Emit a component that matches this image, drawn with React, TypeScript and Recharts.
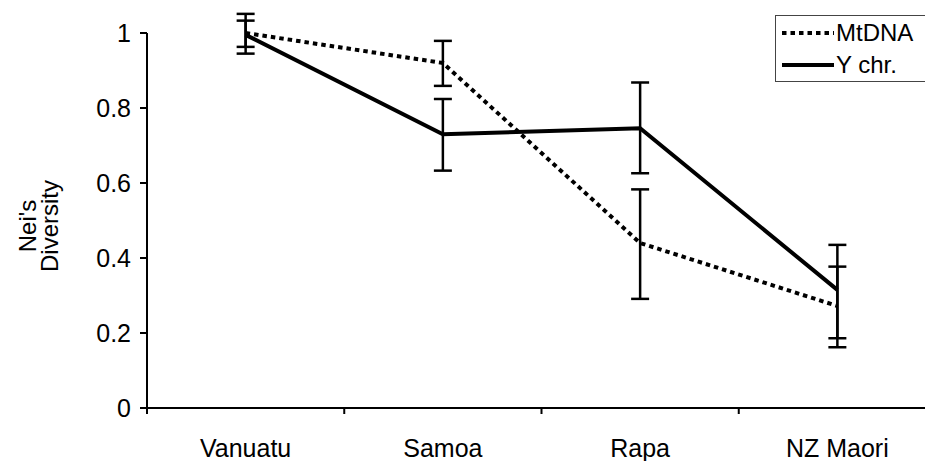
import { LineChart, Line, XAxis, YAxis, ErrorBar, Legend } from 'recharts';

const categories = ['Vanuatu', 'Samoa', 'Rapa', 'NZ Maori'];

const mtdna = [1.0, 0.92, 0.44, 0.272];
const mtdnaLow = [0.963, 0.859, 0.291, 0.186];
const mtdnaHigh = [1.033, 0.979, 0.583, 0.377];

const ychr = [0.995, 0.73, 0.746, 0.315];
const ychrLow = [0.945, 0.633, 0.626, 0.162];
const ychrHigh = [1.051, 0.824, 0.868, 0.435];

const yTicks = [0, 0.2, 0.4, 0.6, 0.8, 1];

const data = categories.map((name, i) => ({
  name,
  mtdna: mtdna[i],
  mtdnaErr: [mtdna[i] - mtdnaLow[i], mtdnaHigh[i] - mtdna[i]],
  ychr: ychr[i],
  ychrErr: [ychr[i] - ychrLow[i], ychrHigh[i] - ychr[i]],
}));

const series = [
  { key: 'mtdna', name: 'MtDNA', dash: '4.5 4' },
  { key: 'ychr', name: 'Y chr.', dash: undefined },
];

const FONT = '"Liberation Sans", Arial, Helvetica, sans-serif';
const W = 936;
const H = 461;
const Y_AXIS_W = 147;
const X_AXIS_H = 53;
const PLOT_W = W - Y_AXIS_W;
const HALF_BAND = PLOT_W / categories.length / 2;
const X_TICK_SIZE = 6;
const X_TICK_MARGIN = 25;

// category labels sit mid-band, tick marks sit on the band edges (Excel style)
const XTick = (p: any) => {
  const axisY = p.y - X_TICK_SIZE - X_TICK_MARGIN;
  return (
    <g>
      <line x1={p.x - HALF_BAND} x2={p.x - HALF_BAND} y1={axisY} y2={axisY + X_TICK_SIZE} stroke="#000" strokeWidth={2} />
      <text x={p.x} y={p.y} dy="0.71em" textAnchor="middle" fontSize={25} fontFamily={FONT} fill="#000">
        {p.payload.value}
      </text>
    </g>
  );
};

const YTick = (p: any) => (
  <text x={p.x} y={p.y} dy="0.36em" textAnchor="end" fontSize={25} fontFamily={FONT} fill="#000">
    {p.payload.value}
  </text>
);

const YLabel = () => (
  <text transform="rotate(-90)" textAnchor="middle" fontSize={24} fontFamily={FONT} fill="#000">
    <tspan x={-226} y={36}>Nei's</tspan>
    <tspan x={-226} y={58}>Diversity</tspan>
  </text>
);

const renderLegend = (props: any) => (
  <div
    style={{
      boxSizing: 'border-box',
      width: 165,
      height: 67,
      border: '1px solid #444',
      background: '#fff',
      paddingTop: 1,
      fontFamily: FONT,
    }}
  >
    {(props.payload || []).map((entry: any) => {
      const s = series.find((x) => x.key === entry.dataKey) || series[0];
      return (
        <div key={s.key} style={{ display: 'flex', alignItems: 'center', height: 32 }}>
          <svg width={52} height={8} style={{ marginLeft: 6, display: 'block' }}>
            <line x1={0} y1={4} x2={52} y2={4} stroke="#000" strokeWidth={4} strokeDasharray={s.dash} />
          </svg>
          <span style={{ fontSize: 24, marginLeft: 2, lineHeight: 1, color: '#000' }}>{entry.value}</span>
        </div>
      );
    })}
  </div>
);

export default function App() {
  return (
    <div style={{ position: 'absolute', left: 0, top: 0, width: 925, height: 461, overflow: 'hidden', background: '#fff' }}>
      <LineChart width={W} height={H} data={data} margin={{ top: 10.5, right: 0, bottom: 0, left: 0 }}>
        <XAxis
          dataKey="name"
          type="category"
          interval={0}
          height={X_AXIS_H}
          padding={{ left: HALF_BAND, right: HALF_BAND }}
          tickLine={false}
          tickSize={X_TICK_SIZE}
          tickMargin={X_TICK_MARGIN}
          axisLine={{ stroke: '#000', strokeWidth: 2 }}
          tick={<XTick />}
        />
        <YAxis
          type="number"
          domain={[0, 1.06]}
          ticks={yTicks}
          width={Y_AXIS_W}
          tickSize={7}
          tickMargin={9}
          tickLine={{ stroke: '#000', strokeWidth: 2 }}
          axisLine={{ stroke: '#000', strokeWidth: 2, strokeDasharray: '0 22.5 1000' }}
          tick={<YTick />}
          label={<YLabel />}
        />
        <Legend
          layout="vertical"
          align="center"
          verticalAlign="middle"
          content={renderLegend}
          wrapperStyle={{ left: 775, top: 15, right: 'auto', bottom: 'auto', width: 165, height: 67 }}
        />
        <Line
          type="linear"
          dataKey="mtdna"
          name="MtDNA"
          stroke="#000"
          strokeWidth={4}
          strokeDasharray="4.5 4"
          dot={false}
          activeDot={false}
          isAnimationActive={false}
        >
          <ErrorBar dataKey="mtdnaErr" direction="y" width={9} stroke="#000" strokeWidth={2.5} isAnimationActive={false} />
        </Line>
        <Line
          type="linear"
          dataKey="ychr"
          name="Y chr."
          stroke="#000"
          strokeWidth={4}
          dot={false}
          activeDot={false}
          isAnimationActive={false}
        >
          <ErrorBar dataKey="ychrErr" direction="y" width={9} stroke="#000" strokeWidth={2.5} isAnimationActive={false} />
        </Line>
      </LineChart>
    </div>
  );
}
